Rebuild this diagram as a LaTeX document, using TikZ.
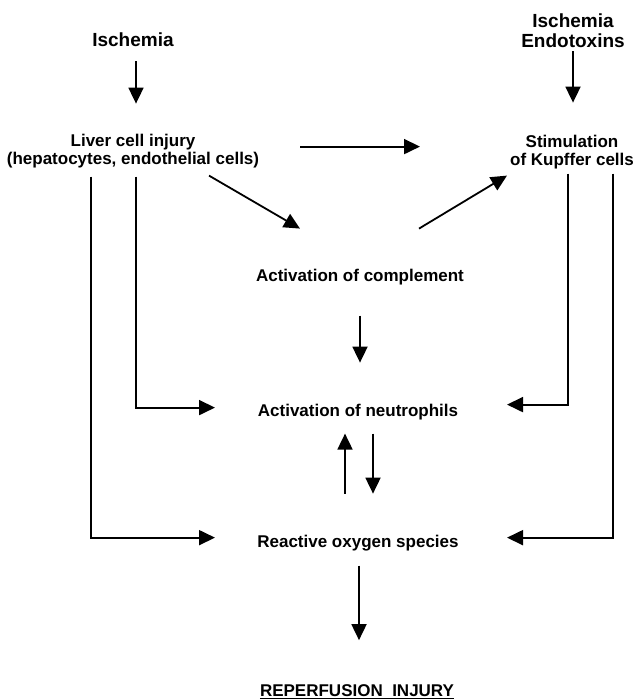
\documentclass[tikz,border=0pt]{standalone}
\usepackage{fontspec}
\setmainfont{Liberation Sans}
\usetikzlibrary{arrows.meta,calc}
\tikzset{
  lbl/.style={font=\bfseries\fontsize{17}{18}\selectfont, inner sep=0pt, anchor=base, align=center},
  toplbl/.style={font=\bfseries\fontsize{19}{20}\selectfont, inner sep=0pt, anchor=base, align=center},
  arr/.style={line width=1.8pt, -{Triangle[width=15pt,length=16pt]}},
  ln/.style={line width=1.6pt}
}
\begin{document}
\begin{tikzpicture}[x=1pt,y=-1pt]
\useasboundingbox (0,0) rectangle (635,700);
\node[toplbl] (isc1) at (133,47) {Ischemia};
\node[toplbl] (isc2) at (573,48) {Ischemia\\Endotoxins};
\node[lbl] (liver) at (133,165) {Liver cell injury\\(hepatocytes, endothelial cells)};
\node[lbl] (kup) at (572,166) {Stimulation\\of Kupffer cells};
\node[lbl] (compl) at (360,281) {Activation of complement};
\node[lbl] (neut) at (358,416) {Activation of neutrophils};
\node[lbl] (ros) at (358,547) {Reactive oxygen species};
\node[lbl] (rep) at (357,696) {REPERFUSION\ \ INJURY};
\draw[ln] ($(rep.base west)+(0,2.5)$) -- ($(rep.base east)+(0,2.5)$);

\draw[arr] ($(isc1)+(3,21)$) -- ($(liver)+(3,-48)$);
\draw[arr] ($(isc2)+(0,20)$) -- ($(kup)+(1,-50)$);
\draw[arr] ($(liver)+(167,-5)$) -- ($(kup)+(-152,-6)$);
\draw[arr] ($(liver)+(76,24)$) -- ($(compl)+(-60,-48)$);
\draw[arr] ($(compl)+(59,-48)$) -- ($(kup)+(-65,23)$);
\draw[arr] ($(compl)+(0,39)$) -- ($(neut)+(2,-49)$);
\draw[arr] ($(liver)+(3,25)$) |- ($(neut)+(-143,-4)$);
\draw[arr] ($(liver)+(-42,25)$) |- ($(ros)+(-143,-5)$);
\draw[arr] ($(kup)+(-4,21)$) |- ($(neut)+(149,-7)$);
\draw[arr] ($(kup)+(41,21)$) |- ($(ros)+(149,-5)$);
\draw[arr] ($(ros)+(-13,-49)$) -- ($(neut)+(-13,22)$);
\draw[arr] ($(neut)+(15,22)$) -- ($(ros)+(15,-49)$);
\draw[arr] ($(ros)+(1,23)$) -- ($(rep)+(2,-50)$);
\end{tikzpicture}
\end{document}
